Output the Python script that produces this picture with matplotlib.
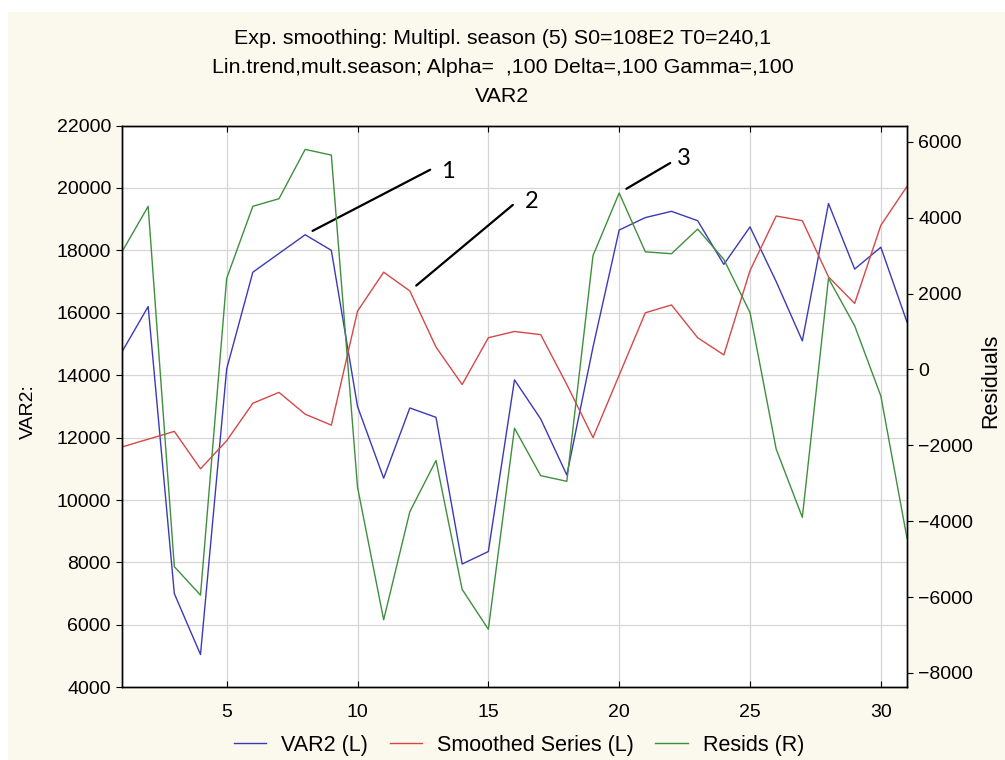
import matplotlib
matplotlib.use("Agg")
import matplotlib.pyplot as plt
from matplotlib.patches import Rectangle
import numpy as np

# observation index 1..31
t = np.arange(1, 32)

var2 = [14750, 16200, 7000, 5050, 14200, 17300, 17900, 18500, 18000, 13000,
        10700, 12950, 12650, 7950, 8350, 13850, 12600, 10800, 14900, 18650,
        19050, 19250, 18950, 17550, 18750, 17000, 15100, 19500, 17400, 18100,
        15700]
smoothed = [11700, 11950, 12200, 11000, 11900, 13100, 13450, 12750, 12400, 16050,
            17300, 16700, 14900, 13700, 15200, 15400, 15300, 13700, 12000, 14000,
            16000, 16250, 15200, 14650, 17350, 19100, 18950, 17150, 16300, 18800,
            20050]
resids = [3100, 4300, -5200, -5950, 2400, 4300, 4500, 5800, 5650, -3100,
          -6600, -3750, -2400, -5800, -6850, -1550, -2800, -2950, 3000, 4650,
          3100, 3050, 3700, 2900, 1500, -2100, -3900, 2400, 1150, -700,
          -4450]

title_lines = ["Exp. smoothing: Multipl. season (5) S0=108E2 T0=240,1",
               "Lin.trend,mult.season; Alpha=  ,100 Delta=,100 Gamma=,100",
               "VAR2"]

BG = "#FBF8EE"
C_BLUE = "#3A3AB8"
C_RED = "#D44848"
C_GREEN = "#3F8F3F"
W, H = 1005, 760

plt.rcParams["font.family"] = ["Liberation Sans", "DejaVu Sans"]

fig = plt.figure(figsize=(W / 100, H / 100), dpi=100, facecolor="white")
fig.patches.append(Rectangle((8 / W, 0), 1, 1 - 12 / H, transform=fig.transFigure,
                             facecolor=BG, edgecolor="none", zorder=-10))

ax = fig.add_axes([122 / W, 1 - 687.3 / H, 785 / W, (687.3 - 125.5) / H])
ax.set_facecolor("white")
ax2 = ax.twinx()

l1, = ax.plot(t, var2, color=C_BLUE, lw=1.0, label="VAR2 (L)")
l2, = ax.plot(t, smoothed, color=C_RED, lw=1.0, label="Smoothed Series (L)")
l3, = ax2.plot(t, resids, color=C_GREEN, lw=1.0, label="Resids (R)")

ax.set_xlim(1, 31)
ax.set_xticks(range(5, 31, 5))
ax.set_ylim(4000, 22000)
ax.set_yticks(range(4000, 22001, 2000))
ax2.set_ylim(-8380, 6430)
ax2.set_yticks(range(-8000, 6001, 2000))

ax.grid(True, color="#D6D6D6", lw=0.9)
ax.set_axisbelow(True)
ax.tick_params(axis="y", direction="out", length=4, labelsize=14, pad=4)
ax.tick_params(axis="x", direction="in", length=4, top=True, labelsize=14, pad=12)
ax2.tick_params(axis="y", direction="out", length=4, labelsize=14, pad=4)
for a in (ax, ax2):
    for s in a.spines.values():
        s.set_color("black")
        s.set_linewidth(1.0)

fig.text(28 / W, 1 - 412 / H, "VAR2:", rotation=90, ha="center", va="center", fontsize=14)
fig.text(991 / W, 1 - 381 / H, "Residuals", rotation=90, ha="center", va="center", fontsize=15.5)

for i, line in enumerate(title_lines):
    fig.text(0.5, 1 - (38 + 29.5 * i) / H, line, ha="center", va="center", fontsize=15.4)

# numbered callouts
ann_font = dict(family=["Lato", "DejaVu Sans"], fontsize=17)
callouts = [("1", ax, 8, var2[7], (125, 65), (143, 63)),
            ("2", ax, 12, smoothed[11], (103, 86), (122, 89)),
            ("3", ax2, 20, resids[19], (51, 30), (65, 35))]
for lab, a, xv, yv, end, txt in callouts:
    a.annotate("", xy=(xv, yv), xytext=end, textcoords="offset pixels",
               arrowprops=dict(arrowstyle="-", color="black", lw=1.6,
                               shrinkA=0, shrinkB=6))
    a.annotate(lab, xy=(xv, yv), xytext=txt, textcoords="offset pixels",
               ha="center", va="center", **ann_font)

fig.legend(handles=[l1, l2, l3], loc="center", bbox_to_anchor=(519 / W, 1 - 745 / H),
           ncol=3, frameon=False, fontsize=15.5, handlelength=1.5, columnspacing=1.0,
           handletextpad=0.7)

fig.savefig("out.png", dpi=100, facecolor=fig.get_facecolor())
